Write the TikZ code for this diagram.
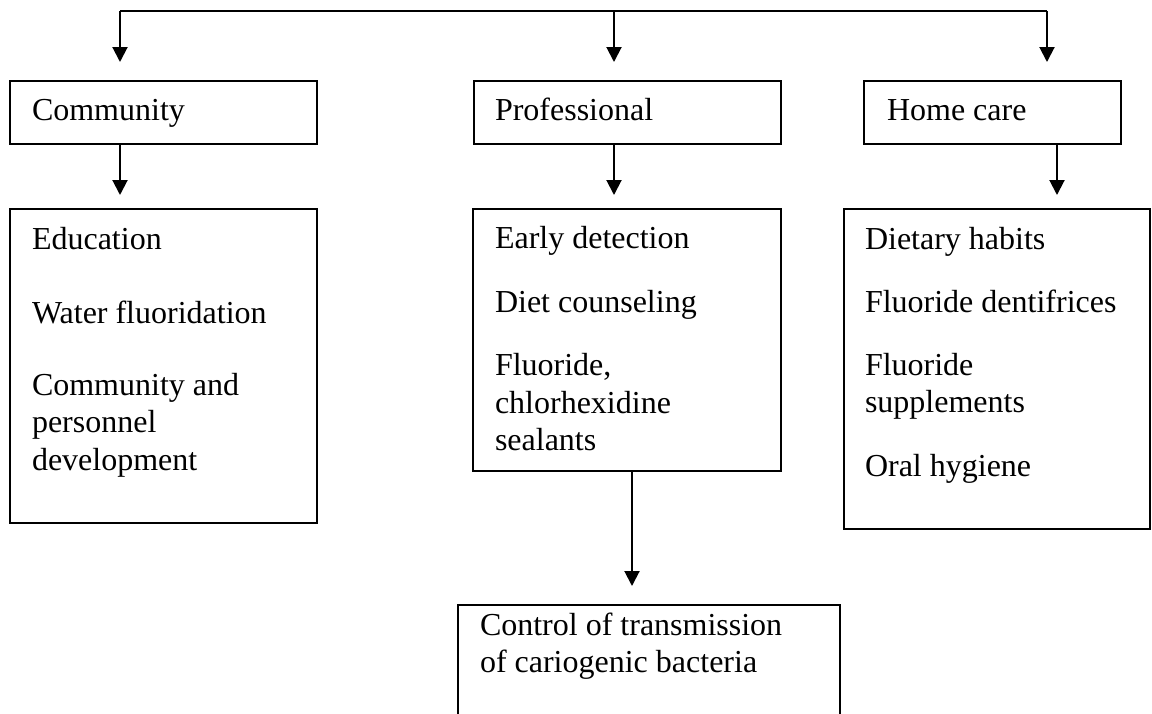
\documentclass[tikz,border=0pt]{standalone}
\usepackage{fontspec}
\setmainfont{Liberation Serif}
\usetikzlibrary{arrows.meta}

\tikzset{
  box/.style={draw, line width=1.8pt, rectangle, inner sep=0pt, outer sep=0pt, anchor=north west},
  txt/.style={inner sep=0pt, outer sep=0pt, anchor=base west, font=\fontsize{32}{37}\selectfont},
  link/.style={line width=2pt},
  arr/.style={line width=2pt, -{Triangle[length=15pt,width=15pt]}},
}

\begin{document}
\begin{tikzpicture}[x=1pt,y=-1pt]
\useasboundingbox (0,0) rectangle (1152,713);
\clip (0,0) rectangle (1152,713);

% header boxes
\node[box, minimum width=307pt, minimum height=63pt] (comm) at (10,81) {};
\node[box, minimum width=307pt, minimum height=63pt] (prof) at (474,81) {};
\node[box, minimum width=257pt, minimum height=63pt] (home) at (864,81) {};

% detail boxes
\node[box, minimum width=307pt, minimum height=314pt] (commD) at (10,209) {};
\node[box, minimum width=308pt, minimum height=262pt] (profD) at (473,209) {};
\node[box, minimum width=306pt, minimum height=320pt] (homeD) at (844,209) {};

% outcome box
\node[box, minimum width=382pt, minimum height=140pt] (ctrl) at (458,605) {};

% header labels
\node[txt] (commT) at (32,120) {Community};
\node[txt] (profT) at (495,120) {Professional};
\node[txt] (homeT) at (887,120) {Home care};

% community measures
\node[txt] (c1) at (32,249) {Education};
\node[txt] (c2) at (32,323) {Water fluoridation};
\node[txt] (c3) at (32,395) {Community and};
\node[txt] (c4) at (32,432) {personnel};
\node[txt] (c5) at (32,470) {development};

% professional measures
\node[txt] (p1) at (495,248) {Early detection};
\node[txt] (p2) at (495,312) {Diet counseling};
\node[txt] (p3) at (495,375) {Fluoride,};
\node[txt] (p4) at (495,413) {chlorhexidine};
\node[txt] (p5) at (495,450) {sealants};

% home care measures
\node[txt] (h1) at (865,249) {Dietary habits};
\node[txt] (h2) at (865,312) {Fluoride dentifrices};
\node[txt] (h3) at (865,375) {Fluoride};
\node[txt] (h4) at (865,412) {supplements};
\node[txt] (h5) at (865,476) {Oral hygiene};

% outcome text
\node[txt] (o1) at (480,635) {Control of transmission};
\node[txt] (o2) at (480,672) {of cariogenic bacteria};

% distribution bar
\coordinate (busL) at (120,11);
\coordinate (busM) at (614,11);
\coordinate (busR) at (1047,11);
\draw[link] (busL) -- (busR);
\draw[arr, shorten >=19pt] (busL) -- (busL |- comm.north);
\draw[arr, shorten >=19pt] (busM) -- (busM |- prof.north);
\draw[arr, shorten >=19pt] (busR) -- (busR |- home.north);

% header to details
\coordinate (cx) at (120,0);
\coordinate (px) at (614,0);
\coordinate (hx) at (1057,0);
\draw[arr, shorten >=14pt] (cx |- comm.south) -- (cx |- commD.north);
\draw[arr, shorten >=14pt] (px |- prof.south) -- (px |- profD.north);
\draw[arr, shorten >=14pt] (hx |- home.south) -- (hx |- homeD.north);

% professional measures to outcome
\coordinate (ox) at (632,0);
\draw[arr, shorten >=19pt] (ox |- profD.south) -- (ox |- ctrl.north);
\end{tikzpicture}
\end{document}
